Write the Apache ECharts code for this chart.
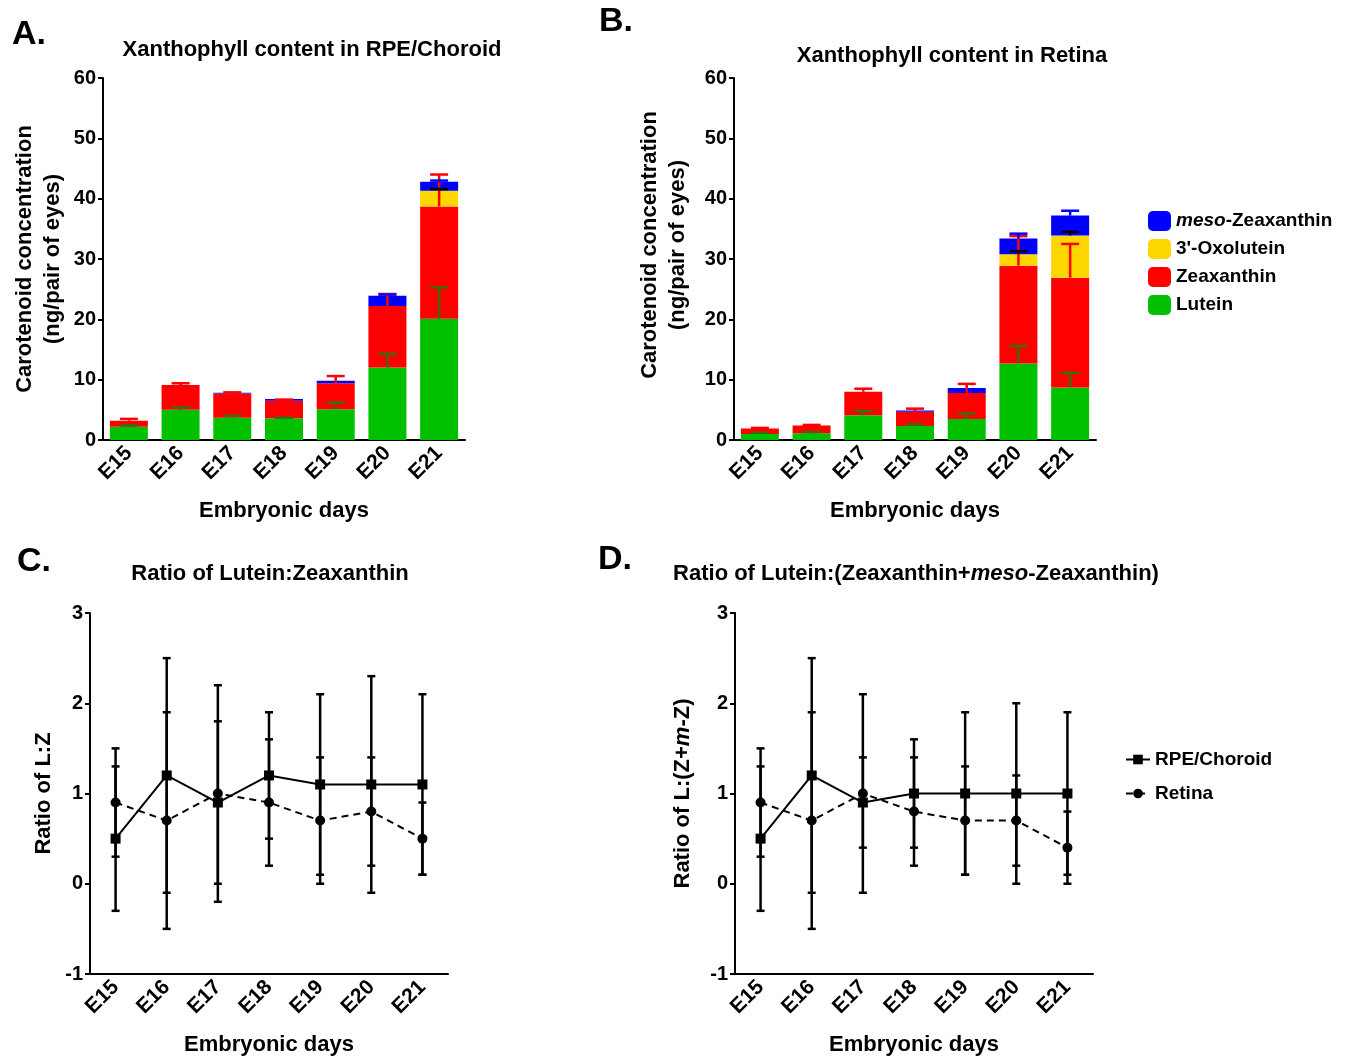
<!DOCTYPE html>
<html>
<head>
<meta charset="utf-8">
<script src="https://cdn.jsdelivr.net/npm/echarts@6/dist/echarts.min.js"></script>
<style>
  html, body { margin: 0; padding: 0; background: #fff; }
  #main { width: 1346px; height: 1057px; }
</style>
</head>
<body>
<div id="main"></div>
<script>
var days = ['E15', 'E16', 'E17', 'E18', 'E19', 'E20', 'E21'];

// A: RPE/Choroid stacked content (ng/pair of eyes)
var aLutein    = [2.2, 5.0, 3.7, 3.6, 5.1, 12.0, 20.1];
var aLuteinErr = [0.2, 0.4, 0.3, 0.1, 1.1, 2.3, 5.2];
var aZea       = [1.0, 4.1, 4.0, 2.9, 4.3, 10.2, 18.6];
var aZeaErr    = [0.3, 0.3, 0.2, 0.2, 1.2, 2.0, 5.3];
var aOxo       = [0, 0, 0, 0, 0, 0, 2.6];
var aOxoErr    = [0, 0, 0, 0, 0, 0, 0.3];
var aMeso      = [0, 0, 0.15, 0.3, 0.4, 1.7, 1.5];
var aMesoErr   = [0, 0, 0, 0, 0, 0.2, 0.2];

// B: Retina stacked content
var bLutein    = [1.0, 1.1, 4.1, 2.3, 3.5, 12.7, 8.7];
var bLuteinErr = [0.2, 0.2, 0.7, 0.3, 0.9, 2.9, 2.4];
var bZea       = [0.9, 1.3, 3.9, 2.4, 4.3, 16.2, 18.2];
var bZeaErr    = [0.1, 0.1, 0.5, 0.5, 1.5, 4.9, 5.6];
var bOxo       = [0, 0, 0, 0, 0, 1.9, 7.0];
var bOxoErr    = [0, 0, 0, 0, 0, 0.5, 0.6];
var bMeso      = [0, 0, 0, 0.2, 0.8, 2.6, 3.3];
var bMesoErr   = [0, 0, 0, 0, 0, 0.8, 0.8];

// C: ratio L:Z
var cRpe    = [0.5, 1.2, 0.9, 1.2, 1.1, 1.1, 1.1];
var cRpeErr = [0.8, 1.3, 0.9, 0.7, 1.0, 1.2, 1.0];
var cRet    = [0.9, 0.7, 1.0, 0.9, 0.7, 0.8, 0.5];
var cRetErr = [0.6, 1.2, 1.2, 0.7, 0.7, 0.6, 0.4];

// D: ratio L:(Z+m-Z)
var dRpe    = [0.5, 1.2, 0.9, 1.0, 1.0, 1.0, 1.0];
var dRpeErr = [0.8, 1.3, 0.5, 0.6, 0.9, 1.0, 0.9];
var dRet    = [0.9, 0.7, 1.0, 0.8, 0.7, 0.7, 0.4];
var dRetErr = [0.6, 1.2, 1.1, 0.6, 0.6, 0.5, 0.4];

var segNames = ['Lutein', 'Zeaxanthin', "3'-Oxolutein", 'meso-Zeaxanthin'];
var segColors = ['#00c000', '#ff0000', '#ffd700', '#0000ff'];
var segErrColors = ['#3a6b10', '#ff0000', '#000000', '#0000ff'];

var FONT = 'Liberation Sans, Arial, sans-serif';

var chart = echarts.init(document.getElementById('main'));

// error bars on top of each stacked segment
function stackErr(segs, errs) {
  var out = [];
  for (var i = 0; i < days.length; i++) {
    var base = 0;
    for (var k = 0; k < segs.length; k++) {
      base += segs[k][i];
      if (segs[k][i] > 0 && errs[k][i] > 0) {
        out.push([i, base, base + errs[k][i], k]);
      }
    }
  }
  return out;
}

function meanErr(vals, errs) {
  return vals.map(function (v, i) { return [i, v - errs[i], v + errs[i], 4]; });
}

function renderErr(twoSided) {
  return function (params, api) {
    var x = api.value(0);
    var lo = api.coord([x, api.value(1)]);
    var hi = api.coord([x, api.value(2)]);
    var k = api.value(3);
    var color = k < 4 ? segErrColors[k] : '#000';
    var half = twoSided ? 4 : 9;
    var style = { stroke: color, lineWidth: 2.5 };
    var children = [
      { type: 'line', shape: { x1: lo[0], y1: lo[1], x2: hi[0], y2: hi[1] }, style: style },
      { type: 'line', shape: { x1: hi[0] - half, y1: hi[1], x2: hi[0] + half, y2: hi[1] }, style: style }
    ];
    if (twoSided) {
      children.push({ type: 'line', shape: { x1: lo[0] - half, y1: lo[1], x2: lo[0] + half, y2: lo[1] }, style: style });
    }
    return { type: 'group', children: children };
  };
}

var axisLineStyle = { color: '#000', width: 2 };
var labelStyle = { color: '#000', fontSize: 20, fontWeight: 'bold', fontFamily: FONT };
var nameStyle = { color: '#000', fontSize: 22, fontWeight: 'bold', fontFamily: FONT };

function xAxisOf(gi) {
  return {
    type: 'category', gridIndex: gi, data: days,
    name: 'Embryonic days', nameLocation: 'middle', nameGap: 60,
    nameTextStyle: nameStyle,
    axisLine: { onZero: false, lineStyle: axisLineStyle },
    axisTick: { alignWithLabel: true, length: 6, lineStyle: { color: '#000', width: 2 } },
    axisLabel: Object.assign({ rotate: 45, margin: 10, interval: 0 }, labelStyle, { fontSize: 21 }),
    splitLine: { show: false }
  };
}

function yAxisOf(gi, min, max, step, name, gap, rich, pad) {
  return {
    type: 'value', gridIndex: gi, min: min, max: max, interval: step,
    name: name, nameLocation: 'middle', nameGap: gap, nameRotate: 90,
    nameTextStyle: Object.assign({ lineHeight: 28, rich: rich, padding: pad || 0 }, nameStyle),
    axisLine: { show: true, lineStyle: axisLineStyle },
    axisTick: { show: true, length: 5, lineStyle: { color: '#000', width: 2 } },
    axisLabel: Object.assign({ margin: 7 }, labelStyle),
    splitLine: { show: false }
  };
}

var italicRich = {
  i: { fontStyle: 'italic', fontWeight: 'bold', fontSize: 22, fontFamily: FONT, color: '#000' }
};

var series = [];
function pushBars(gi, segs, errs) {
  segs.forEach(function (s, k) {
    series.push({
      name: segNames[k], type: 'bar', stack: 'st' + gi,
      xAxisIndex: gi, yAxisIndex: gi,
      barWidth: 38, itemStyle: { color: segColors[k] },
      data: s
    });
  });
  series.push({
    type: 'custom', xAxisIndex: gi, yAxisIndex: gi, z: 5,
    renderItem: renderErr(false),
    encode: { x: 0, y: [1, 2] },
    data: stackErr(segs, errs)
  });
}
pushBars(0, [aLutein, aZea, aOxo, aMeso], [aLuteinErr, aZeaErr, aOxoErr, aMesoErr]);
pushBars(1, [bLutein, bZea, bOxo, bMeso], [bLuteinErr, bZeaErr, bOxoErr, bMesoErr]);

function pushLines(gi, rpe, rpeErr, ret, retErr) {
  series.push({
    type: 'custom', xAxisIndex: gi, yAxisIndex: gi, z: 3,
    renderItem: renderErr(true), encode: { x: 0, y: [1, 2] },
    data: meanErr(rpe, rpeErr).concat(meanErr(ret, retErr))
  });
  series.push({
    name: 'RPE/Choroid', type: 'line', xAxisIndex: gi, yAxisIndex: gi, z: 4,
    symbol: 'rect', symbolSize: 10,
    itemStyle: { color: '#000' }, lineStyle: { color: '#000', width: 2 },
    data: rpe
  });
  series.push({
    name: 'Retina', type: 'line', xAxisIndex: gi, yAxisIndex: gi, z: 4,
    symbol: 'circle', symbolSize: 10,
    itemStyle: { color: '#000' }, lineStyle: { color: '#000', width: 2, type: [7, 5] },
    data: ret
  });
}
pushLines(2, cRpe, cRpeErr, cRet, cRetErr);
pushLines(3, dRpe, dRpeErr, dRet, dRetErr);

var titleFont = 'bold 22px ' + FONT;
var letterFont = 'bold 34px ' + FONT;
function txt(text, x, y, font, rich) {
  return {
    type: 'text', x: x, y: y,
    style: { text: text, font: font, fill: '#000', align: 'center', verticalAlign: 'middle', rich: rich }
  };
}

chart.setOption({
  animation: false,
  grid: [
    { left: 103, top: 78, width: 362, height: 362 },
    { left: 734, top: 78, width: 362, height: 362 },
    { left: 90, top: 613, width: 358, height: 362 },
    { left: 735, top: 613, width: 358, height: 362 }
  ],
  xAxis: [xAxisOf(0), xAxisOf(1), xAxisOf(2), xAxisOf(3)],
  yAxis: [
    yAxisOf(0, 0, 60, 10, 'Carotenoid concentration\n(ng/pair of eyes)', 36),
    yAxisOf(1, 0, 60, 10, 'Carotenoid concentration\n(ng/pair of eyes)', 42, null, [0, 0, 0, 28]),
    yAxisOf(2, -1, 3, 1, 'Ratio of L:Z', 32),
    yAxisOf(3, -1, 3, 1, 'Ratio of L:(Z+{i|m}-Z)', 38, italicRich)
  ],
  legend: [
    {
      data: ['meso-Zeaxanthin', "3'-Oxolutein", 'Zeaxanthin', 'Lutein'],
      orient: 'vertical', left: 1143, top: 206,
      itemWidth: 23, itemHeight: 20, itemGap: 8,
      icon: 'roundRect',
      formatter: function (n) { return n === 'meso-Zeaxanthin' ? '{i|meso}-Zeaxanthin' : n; },
      textStyle: {
        color: '#000', fontSize: 19, fontWeight: 'bold', fontFamily: FONT,
        rich: { i: { fontStyle: 'italic', fontWeight: 'bold', fontSize: 19, fontFamily: FONT, color: '#000' } }
      }
    },
    {
      data: ['RPE/Choroid', 'Retina'],
      orient: 'vertical', left: 1120, top: 745,
      itemWidth: 24, itemHeight: 12, itemGap: 15,
      textStyle: { color: '#000', fontSize: 19, fontWeight: 'bold', fontFamily: FONT }
    }
  ],
  graphic: [
    txt('A.', 29, 35, letterFont),
    txt('B.', 616, 22, letterFont),
    txt('C.', 34, 562, letterFont),
    txt('D.', 615, 560, letterFont),
    txt('Xanthophyll content in RPE/Choroid', 312, 50, titleFont),
    txt('Xanthophyll content in Retina', 952, 56, titleFont),
    txt('Ratio of Lutein:Zeaxanthin', 270, 574, titleFont),
    txt('Ratio of Lutein:(Zeaxanthin+{i|meso}-Zeaxanthin)', 916, 574, titleFont, italicRich)
  ],
  series: series
});
</script>
</body>
</html>
